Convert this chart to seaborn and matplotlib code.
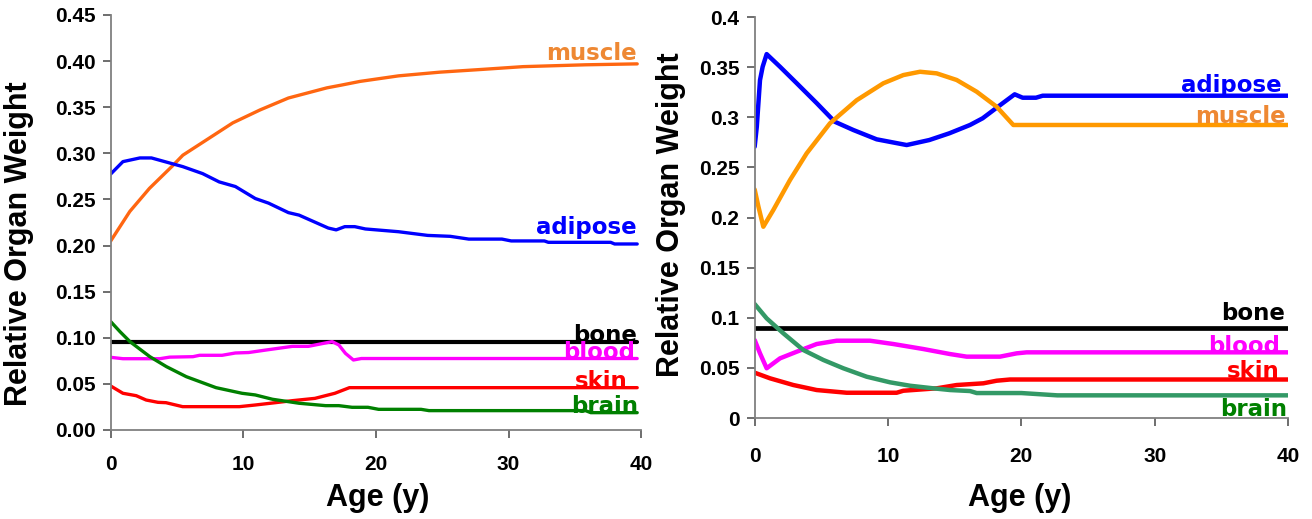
import numpy as np
import pandas as pd
import matplotlib
matplotlib.use('Agg')
import matplotlib.pyplot as plt
import seaborn as sns

sns.set_style('ticks')
plt.rcParams['font.family'] = ['Liberation Sans', 'DejaVu Sans']
plt.rcParams['text.color'] = 'black'
plt.rcParams['axes.labelcolor'] = 'black'

# ---- left panel data (age in years, relative organ weight) ----
l_muscle_age = [0, 1.44, 2.92, 4.63, 5.44, 7.16, 9.2, 11.25, 13.4, 16.3, 17.4, 18.8, 21.7, 24.8, 28.0, 31.1, 35.8, 39.7]
l_muscle = [0.205, 0.237, 0.262, 0.286, 0.298, 0.314, 0.333, 0.347, 0.360, 0.371, 0.374, 0.378, 0.384, 0.388, 0.391, 0.394, 0.396, 0.397]

l_adipose_age = [0, 0.92, 2.2, 3.07, 5.43, 6.93, 8.18, 9.4, 10.9, 11.9, 13.4, 14.2, 16.4, 17.0, 17.65, 18.4, 19.2,
                 21.7, 23.9, 25.6, 27.0, 29.5, 30.2, 32.7, 33.0, 37.7, 38.0, 39.7]
l_adipose = [0.2776, 0.291, 0.295, 0.295, 0.2856, 0.278, 0.269, 0.264, 0.251, 0.246, 0.2357, 0.233, 0.219, 0.217,
             0.2205, 0.2205, 0.218, 0.215, 0.211, 0.210, 0.207, 0.207, 0.205, 0.205, 0.2035, 0.2035, 0.2017, 0.2017]

l_bone_age = [0, 39.7]
l_bone = [0.095, 0.095]

l_blood_age = [0, 0.92, 3.7, 4.44, 6.2, 6.7, 8.4, 9.4, 10.4, 11.7, 13.2, 13.7, 14.9, 16.7, 17.2, 17.7, 18.3, 18.9, 39.7]
l_blood = [0.0788, 0.0773, 0.0773, 0.079, 0.0795, 0.081, 0.081, 0.0835, 0.084, 0.0867, 0.0897, 0.0907, 0.0907,
           0.0958, 0.0922, 0.0831, 0.0759, 0.0775, 0.0775]

l_skin_age = [0, 0.92, 1.92, 2.67, 3.56, 4.17, 5.42, 9.7, 10.9, 12.4, 13.7, 15.4, 16.9, 18.0, 39.7]
l_skin = [0.0477, 0.0398, 0.0372, 0.0325, 0.030, 0.0296, 0.0253, 0.0253, 0.0271, 0.0296, 0.0318, 0.0343, 0.0398,
          0.0459, 0.0459]

l_brain_age = [0, 0.7, 1.45, 2.95, 4.2, 5.7, 7.94, 9.9, 10.9, 12.2, 14.2, 16.2, 17.2, 18.2, 19.4, 20.2, 23.4, 24.0,
               35.8, 36.2, 39.7]
l_brain = [0.1175, 0.1066, 0.0958, 0.0795, 0.0687, 0.0578, 0.0459, 0.0398, 0.038, 0.0333, 0.029, 0.0264, 0.0264,
           0.0246, 0.0246, 0.0224, 0.0224, 0.021, 0.021, 0.0188, 0.0188]

# ---- right panel data ----
r_adipose_age = [0, 0.16, 0.4, 0.6, 0.9, 1.9, 3.15, 4.66, 6.0, 7.4, 9.15, 11.4, 13.1, 14.6, 16.15, 17.1, 18.6, 19.5,
                 20.1, 21.1, 21.6, 40]
r_adipose = [0.2706, 0.2906, 0.337, 0.3504, 0.363, 0.3504, 0.334, 0.314, 0.2956, 0.2873, 0.278, 0.2723, 0.2773,
             0.284, 0.2923, 0.299, 0.314, 0.3229, 0.3195, 0.3195, 0.3215, 0.3215]

r_muscle_age = [0, 0.28, 0.65, 1.4, 2.65, 3.9, 5.65, 7.65, 9.65, 11.15, 12.4, 13.65, 15.15, 16.65, 18.15, 19.4, 40]
r_muscle = [0.228, 0.211, 0.1908, 0.2075, 0.2374, 0.264, 0.294, 0.317, 0.3339, 0.3421, 0.3454, 0.3438, 0.3372,
            0.3255, 0.3105, 0.2923, 0.2923]

r_bone_age = [0, 40]
r_bone = [0.0901, 0.0901]

r_blood_age = [0, 0.4, 0.9, 1.9, 3.15, 4.65, 6.15, 8.65, 10.4, 12.65, 14.65, 15.9, 18.4, 19.65, 20.4, 40]
r_blood = [0.0778, 0.0645, 0.0496, 0.0595, 0.0661, 0.0738, 0.0771, 0.0771, 0.0738, 0.0688, 0.0638, 0.0612, 0.0612,
           0.0645, 0.0655, 0.0655]

r_skin_age = [0, 1.15, 2.9, 4.65, 6.9, 10.65, 11.15, 13.65, 15.15, 17.15, 18.15, 19.15, 40]
r_skin = [0.0452, 0.0396, 0.0329, 0.0279, 0.0252, 0.0252, 0.0272, 0.0296, 0.0329, 0.0346, 0.0372, 0.0384, 0.0384]

r_brain_age = [0, 0.9, 2.15, 3.65, 5.15, 6.65, 8.4, 10.15, 11.65, 13.4, 14.65, 16.15, 16.65, 18.65, 20.0, 22.7, 40]
r_brain = [0.1137, 0.0994, 0.0845, 0.0678, 0.0579, 0.0496, 0.0412, 0.0356, 0.0322, 0.0296, 0.0279, 0.0269, 0.0249,
           0.0249, 0.0249, 0.0226, 0.0226]


def draw(ax, series):
    for age, val, color, width in series:
        df = pd.DataFrame({'age': age, 'w': val})
        sns.lineplot(data=df, x='age', y='w', ax=ax, color=color, linewidth=width, sort=False, estimator=None)


def style(ax, ylim, yticks, labels, xlim, lab_x, lab_y, xlab_x, xlab_y, xpad):
    ax.set_xlim(*xlim)
    ax.set_ylim(*ylim)
    ax.set_xticks([0, 10, 20, 30, 40])
    ax.set_yticks(yticks)
    ax.set_yticklabels(labels)
    sns.despine(ax=ax)
    for s in ['left', 'bottom']:
        ax.spines[s].set_color('#808080')
        ax.spines[s].set_linewidth(1.3)
    ax.tick_params(axis='both', colors='#555555', length=6, width=1.2, labelcolor='black')
    ax.tick_params(axis='x', pad=xpad)
    ax.tick_params(axis='y', pad=5)
    for t in ax.get_xticklabels() + ax.get_yticklabels():
        t.set_fontweight('bold')
        t.set_fontsize(15)
    ax.set_xlabel('Age (y)', fontsize=22, fontweight='bold', va='top')
    ax.set_ylabel('Relative Organ Weight', fontsize=22, fontweight='bold')
    ax.yaxis.set_label_coords(lab_x, lab_y)
    ax.xaxis.set_label_coords(xlab_x, xlab_y)


fig = plt.figure(figsize=(13.12, 5.19), dpi=100)
ax1 = fig.add_axes([0.0844, 0.1715, 0.4043, 0.7996])
ax2 = fig.add_axes([0.5752, 0.1946, 0.4065, 0.7726])

draw(ax1, [
    (l_muscle_age, l_muscle, '#FF6611', 2.4),
    (l_adipose_age, l_adipose, '#0000FF', 2.4),
    (l_bone_age, l_bone, '#000000', 3.0),
    (l_blood_age, l_blood, '#FF00FF', 2.4),
    (l_skin_age, l_skin, '#FF0000', 2.4),
    (l_brain_age, l_brain, '#008000', 2.4),
])
draw(ax2, [
    (r_adipose_age, r_adipose, '#0000FF', 3.2),
    (r_muscle_age, r_muscle, '#FF9900', 3.2),
    (r_bone_age, r_bone, '#000000', 3.4),
    (r_blood_age, r_blood, '#FF00FF', 3.2),
    (r_skin_age, r_skin, '#FF0000', 3.2),
    (r_brain_age, r_brain, '#339966', 3.2),
])

left_yticks = np.arange(0, 0.451, 0.05)
right_yticks = np.arange(0, 0.401, 0.05)
style(ax1, (0, 0.45), left_yticks, ['{:.2f}'.format(t) for t in left_yticks],
      (0, 39.7), -0.145, 0.45, 0.504, -0.128, 12)
style(ax2, (0, 0.4), right_yticks, ['0'] + ['{:g}'.format(round(t, 2)) for t in right_yticks[1:]],
      (0, 40), -0.128, 0.506, 0.4976, -0.162, 15)

lab = dict(family=['DejaVu Sans'], fontsize=16.5, ha='right', va='baseline', fontweight='bold')
ax1.text(39.65, 0.401, 'muscle', color='#EE8833', **lab)
ax1.text(39.65, 0.213, 'adipose', color='#0000FF', **lab)
ax1.text(39.65, 0.0958, 'bone', color='#000000', **lab)
ax1.text(39.5, 0.0775, 'blood', color='#FF00FF', **lab)
ax1.text(39.0, 0.0455, 'skin', color='#FF0000', **lab)
ax1.text(39.8, 0.0184, 'brain', color='#008000', **lab)

ax2.text(39.55, 0.325, 'adipose', color='#0000FF', **lab)
ax2.text(39.8, 0.294, 'muscle', color='#EE8833', **lab)
ax2.text(39.8, 0.0978, 'bone', color='#000000', **lab)
ax2.text(39.4, 0.0648, 'blood', color='#FF00FF', **lab)
ax2.text(39.4, 0.0399, 'skin', color='#FF0000', **lab)
ax2.text(39.9, 0.0015, 'brain', color='#008000', **lab)

fig.savefig('out.png', dpi=100)
